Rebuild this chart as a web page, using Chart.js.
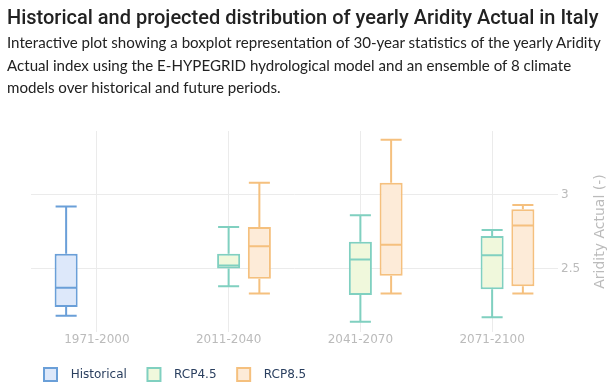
<!DOCTYPE html>
<html>
<head>
<meta charset="utf-8">
<script src="https://cdn.jsdelivr.net/npm/chart.js@4"></script>
<style>
html, body { margin: 0; padding: 0; background: #fff; }
#wrap { position: relative; width: 615px; height: 389px; overflow: hidden; }
#title { position: absolute; left: 7px; top: 5px; margin: 0; font: 500 20px Roboto; line-height: 24px; color: #222; white-space: nowrap; }
#sub { position: absolute; left: 7px; top: 31px; margin: 0; font: 15.1px Lato; line-height: 22.5px; color: #222; white-space: nowrap; }
canvas { position: absolute; left: 0; top: 0; }
</style>
</head>
<body>
<div id="wrap">
  <canvas id="chart" width="615" height="389"></canvas>
  <h1 id="title">Historical and projected distribution of yearly Aridity Actual in Italy</h1>
  <p id="sub">Interactive plot showing a boxplot representation of 30-year statistics of the yearly Aridity<br>Actual index using the E-HYPEGRID hydrological model and an ensemble of 8 climate<br>models over historical and future periods.</p>
</div>
<script>
const periods = ["1971-2000", "2011-2040", "2041-2070", "2071-2100"];
const yTicks = [2.5, 3];
const yTitle = "Aridity Actual (-)";

// box stats per period: lower whisker, Q1, median, Q3, upper whisker
const histMin = [2.18, null, null, null];
const histQ1  = [2.24, null, null, null];
const histMed = [2.37, null, null, null];
const histQ3  = [2.60, null, null, null];
const histMax = [2.92, null, null, null];

const rcp45Min = [null, 2.38, 2.14, 2.17];
const rcp45Q1  = [null, 2.50, 2.32, 2.36];
const rcp45Med = [null, 2.52, 2.56, 2.59];
const rcp45Q3  = [null, 2.60, 2.68, 2.72];
const rcp45Max = [null, 2.78, 2.86, 2.76];

const rcp85Min = [null, 2.33, 2.33, 2.33];
const rcp85Q1  = [null, 2.43, 2.45, 2.38];
const rcp85Med = [null, 2.65, 2.66, 2.79];
const rcp85Q3  = [null, 2.78, 3.08, 2.90];
const rcp85Max = [null, 3.08, 3.37, 2.93];

function boxSet(label, mins, q1s, meds, q3s, maxs, stroke, fill) {
  return {
    label,
    data: q1s.map((q, i) => q == null ? null : [q, q3s[i]]),
    mins, meds, maxs,
    backgroundColor: fill,
    borderColor: stroke,
    borderWidth: 2,
    borderSkipped: false,
    categoryPercentage: 0.7,
    barPercentage: 0.75
  };
}

// whiskers + median line, drawn from the same scales as the boxes
const whiskers = {
  id: "whiskers",
  afterDatasetsDraw(chart) {
    const ctx = chart.ctx, y = chart.scales.y;
    chart.data.datasets.forEach((ds, di) => {
      chart.getDatasetMeta(di).data.forEach((bar, i) => {
        if (ds.data[i] == null) return;
        const half = bar.width / 2 - 1;
        const pTop = y.getPixelForValue(ds.data[i][1]);
        const pBot = y.getPixelForValue(ds.data[i][0]);
        const pMed = y.getPixelForValue(ds.meds[i]);
        const pMax = y.getPixelForValue(ds.maxs[i]);
        const pMin = y.getPixelForValue(ds.mins[i]);
        ctx.save();
        ctx.strokeStyle = ds.borderColor;
        ctx.lineWidth = 2;
        ctx.beginPath();
        ctx.moveTo(bar.x - half, pMed); ctx.lineTo(bar.x + half, pMed);
        ctx.moveTo(bar.x, pTop); ctx.lineTo(bar.x, pMax);
        ctx.moveTo(bar.x - half, pMax); ctx.lineTo(bar.x + half, pMax);
        ctx.moveTo(bar.x, pBot); ctx.lineTo(bar.x, pMin);
        ctx.moveTo(bar.x - half, pMin); ctx.lineTo(bar.x + half, pMin);
        ctx.stroke();
        ctx.restore();
      });
    });
    // y axis title, reading bottom to top on the right side
    const a = chart.chartArea;
    ctx.save();
    ctx.translate(600, (a.top + a.bottom) / 2);
    ctx.rotate(-Math.PI / 2);
    ctx.fillStyle = "#bbb";
    ctx.font = "14px 'DejaVu Sans'";
    ctx.textAlign = "center";
    ctx.textBaseline = "middle";
    ctx.fillText(yTitle, 0, 0);
    ctx.restore();
  }
};

new Chart(document.getElementById("chart"), {
  type: "bar",
  data: {
    labels: periods,
    datasets: [
      boxSet("Historical", histMin, histQ1, histMed, histQ3, histMax, "#6a9fd8", "#dde8fa"),
      boxSet("RCP4.5", rcp45Min, rcp45Q1, rcp45Med, rcp45Q3, rcp45Max, "#80d0c0", "#f0f8dc"),
      boxSet("RCP8.5", rcp85Min, rcp85Q1, rcp85Med, rcp85Q3, rcp85Max, "#f5c07e", "#fdebd8")
    ]
  },
  options: {
    responsive: false,
    animation: false,
    layout: { padding: { top: 131, left: 31, right: 0, bottom: -2 } },
    plugins: {
      tooltip: { enabled: false },
      legend: {
        position: "bottom",
        align: "start",
        labels: {
          boxWidth: 13, boxHeight: 13, padding: 13,
          color: "#2a3f5f",
          font: { family: "DejaVu Sans", size: 12 },
          generateLabels: chart => Chart.defaults.plugins.legend.labels.generateLabels(chart)
            .map(l => ({ ...l, text: "  " + l.text + "  " }))
        }
      }
    },
    scales: {
      x: {
        grid: { color: "#ebebeb", offset: false, drawTicks: false },
        border: { display: false },
        ticks: { color: "#bbb", font: { family: "DejaVu Sans", size: 12 }, padding: 1 },
        afterFit: s => { s.height = 23; }
      },
      y: {
        position: "right",
        min: 2.07, max: 3.43,
        grid: { color: "#ebebeb", drawTicks: false },
        border: { display: false },
        ticks: { color: "#bbb", font: { family: "DejaVu Sans", size: 12 }, padding: 3, callback: v => String(v) },
        afterBuildTicks: s => { s.ticks = yTicks.map(v => ({ value: v })); },
        afterFit: s => { s.width = 57; }
      }
    }
  },
  plugins: [whiskers]
});
</script>
</body>
</html>
